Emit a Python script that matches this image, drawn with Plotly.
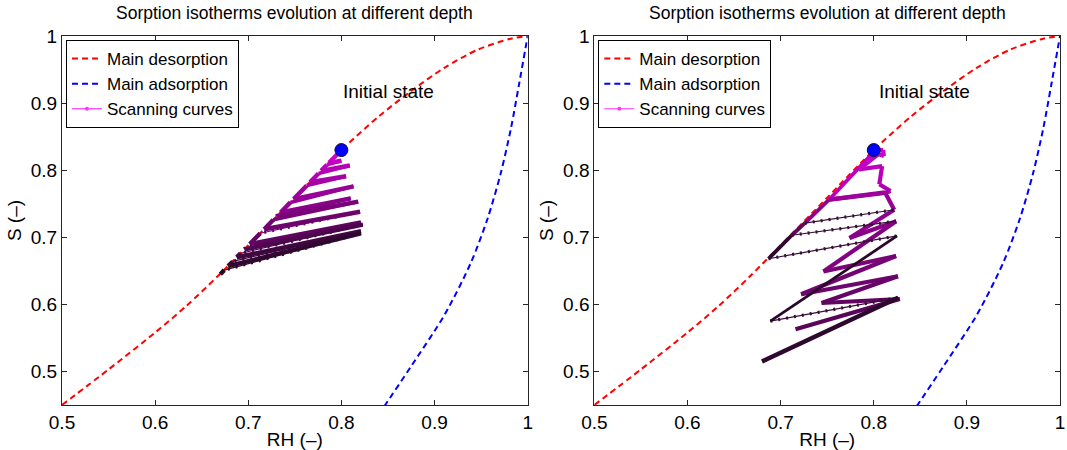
import plotly.graph_objects as go

# ---------------- data ----------------
des_rh = [0.50, 0.55, 0.60, 0.633, 0.668, 0.70, 0.75, 0.80, 0.84, 0.875, 0.911, 0.947, 0.982, 1.00]
des_s = [0.45, 0.503, 0.558, 0.597, 0.643, 0.688, 0.759, 0.830, 0.880, 0.918, 0.953, 0.980, 0.996, 1.00]

ads_rh = [0.840, 0.847, 0.875, 0.911, 0.939, 0.957, 0.971, 0.982, 0.991, 1.00]
ads_s = [0.436, 0.45, 0.508, 0.585, 0.662, 0.728, 0.795, 0.862, 0.930, 1.00]

init_rh = [0.80]
init_s = [0.83]

# left panel: scanning branches (start on drying edge, tip, return point)
L_start_rh = [0.7867, 0.7782, 0.7663, 0.7487, 0.7347, 0.7304, 0.7171, 0.7016, 0.6960, 0.6876, 0.6784]
L_start_s = [0.811, 0.799, 0.782, 0.757, 0.737, 0.731, 0.712, 0.690, 0.682, 0.670, 0.657]
L_tip_rh = [0.800, 0.809, 0.805, 0.813, 0.810, 0.818, 0.820, 0.821, 0.823, 0.821, 0.821]
L_tip_s = [0.814, 0.807, 0.791, 0.776, 0.758, 0.753, 0.738, 0.722, 0.719, 0.709, 0.706]
L_ret_rh = [0.7845, 0.7754, 0.7628, 0.7452, 0.7318, 0.7269, 0.7129, 0.6974, 0.6918, 0.6834, 0.6742]
L_ret_s = [0.808, 0.795, 0.777, 0.752, 0.733, 0.726, 0.706, 0.684, 0.676, 0.664, 0.651]
L_end_rh = [0.670]
L_end_s = [0.645]

# right panel
R_zig_rh = [0.802, 0.810, 0.811, 0.805, 0.784, 0.809, 0.806, 0.818, 0.812, 0.752, 0.812,
            0.822, 0.774, 0.824, 0.746, 0.824, 0.722, 0.826, 0.744, 0.828, 0.716]
R_zig_s = [0.830, 0.830, 0.821, 0.824, 0.801, 0.806, 0.779, 0.769, 0.766, 0.756, 0.767,
           0.741, 0.699, 0.724, 0.649, 0.672, 0.615, 0.642, 0.602, 0.608, 0.563]
R_env_rh = [0.802, 0.752, 0.726, 0.712, 0.687]
R_env_s = [0.830, 0.756, 0.721, 0.703, 0.668]
R_dot_from_rh = [0.726, 0.712, 0.687, 0.689]
R_dot_from_s = [0.721, 0.703, 0.668, 0.575]
R_dot_to_rh = [0.822, 0.824, 0.825, 0.826]
R_dot_to_s = [0.741, 0.724, 0.702, 0.610]
R_diag_rh = [0.689, 0.825]
R_diag_s = [0.575, 0.702]
R_bottom_rh = [0.680, 0.826]
R_bottom_s = [0.515, 0.610]

x_ticks = [0.5, 0.6, 0.7, 0.8, 0.9, 1.0]
x_ticktext = ["0.5", "0.6", "0.7", "0.8", "0.9", "1"]
y_ticks = [0.5, 0.6, 0.7, 0.8, 0.9, 1.0]
y_ticktext = ["0.5", "0.6", "0.7", "0.8", "0.9", "1"]

title_text = "Sorption isotherms evolution at different depth"
names = ["Main desorption", "Main adsorption", "Scanning curves"]

# ---------------- styling helpers ----------------
FONT = "Liberation Sans, Arial, Helvetica, sans-serif"
FS = 19


def shade(t, c0, c1):
    c = [round(a + (b - a) * t) for a, b in zip(c0, c1)]
    return "rgb(%d,%d,%d)" % tuple(c)


fig = go.Figure()


def seg(x, y, color, width, xa, ya, dotted=False):
    fig.add_trace(go.Scatter(x=x, y=y, mode="lines", xaxis=xa, yaxis=ya,
                             line=dict(color=color, width=width),
                             showlegend=False, hoverinfo="skip"))
    if dotted:
        fig.add_trace(go.Scatter(x=x, y=y, mode="lines", xaxis=xa, yaxis=ya,
                                 line=dict(color=color, width=3.2, dash="2px,6px"),
                                 showlegend=False, hoverinfo="skip"))


panels = [("x", "y", "legend"), ("x2", "y2", "legend2")]

# main curves + legend entries
for xa, ya, lg in panels:
    fig.add_trace(go.Scatter(x=des_rh, y=des_s, mode="lines", name=names[0], xaxis=xa, yaxis=ya,
                             legend=lg, line=dict(color="#ff0000", width=2, dash="6px,4px",
                                                  shape="spline", smoothing=0.8)))
    fig.add_trace(go.Scatter(x=ads_rh, y=ads_s, mode="lines", name=names[1], xaxis=xa, yaxis=ya,
                             legend=lg, line=dict(color="#0000ff", width=2, dash="6px,4px",
                                                  shape="spline", smoothing=0.8)))
    fig.add_trace(go.Scatter(x=[None], y=[None], mode="lines+markers", name=names[2], xaxis=xa,
                             yaxis=ya, legend=lg, line=dict(color="#ff33ff", width=1.2),
                             marker=dict(color="#ff33ff", size=4)))

# ---- left panel scanning curves ----
C0, C1 = (205, 0, 205), (40, 8, 40)
pts = [(init_rh[0], init_s[0], None)]
for i in range(len(L_start_rh)):
    pts.append((L_start_rh[i], L_start_s[i], "env"))
    pts.append((L_tip_rh[i], L_tip_s[i], "fwd"))
    pts.append((L_ret_rh[i], L_ret_s[i], "back%d" % i))
pts.append((L_end_rh[0], L_end_s[0], "env"))
n = len(pts) - 1
for k in range(n):
    x0, y0, _ = pts[k]
    x1, y1, kind = pts[k + 1]
    col = shade(k / (n - 1), C0, C1)
    if kind.startswith("back"):
        idx = int(kind[4:])
        if idx >= 6:
            seg([x0, x1], [y0, y1], col, 1.2, "x", "y", dotted=True)
        else:
            seg([x0, x1], [y0, y1], col, 3.6, "x", "y")
    else:
        seg([x0, x1], [y0, y1], col, 4.4, "x", "y")

# ---- right panel scanning curves ----
ne = len(R_env_rh) - 1
for k in range(ne):
    seg(R_env_rh[k:k + 2], R_env_s[k:k + 2], shade(k / (ne - 1), (190, 0, 190), (45, 10, 45)),
        3.8, "x2", "y2")
nz = len(R_zig_rh) - 1
for k in range(nz):
    seg(R_zig_rh[k:k + 2], R_zig_s[k:k + 2], shade(k / (nz - 1), (215, 0, 215), (90, 5, 90)),
        4.2, "x2", "y2")
for k in range(len(R_dot_from_rh)):
    seg([R_dot_from_rh[k], R_dot_to_rh[k]], [R_dot_from_s[k], R_dot_to_s[k]],
        "rgb(55,15,55)", 1.2, "x2", "y2", dotted=True)
seg(R_diag_rh, R_diag_s, "rgb(40,10,40)", 2.8, "x2", "y2")
seg(R_bottom_rh, R_bottom_s, "rgb(45,10,45)", 4.4, "x2", "y2")

# initial state markers
for xa, ya, lg in panels:
    fig.add_trace(go.Scatter(x=init_rh, y=init_s, mode="markers", xaxis=xa, yaxis=ya,
                             marker=dict(color="#0000ff", size=13,
                                         line=dict(color="#10103a", width=1)),
                             showlegend=False, hoverinfo="skip"))

# ---------------- layout ----------------
W, H = 1067, 450
ML, MR, MT, MB = 62, 2, 36, 45
pw = W - ML - MR
ph = H - MT - MB
dom1 = [0, 468 / pw]
dom2 = [(597 - ML) / pw, 1]

axis_common = dict(range=[0.5, 1], showline=True, linecolor="#262626", linewidth=1,
                   mirror="ticks", ticks="inside", ticklen=5, tickcolor="#262626",
                   showgrid=False, zeroline=False, tickfont=dict(size=FS, color="black"),
                   fixedrange=True)
yaxis_common = dict(axis_common, range=[0.45, 1])

leg_common = dict(y=1 - 4 / ph, xanchor="left", yanchor="top", bgcolor="white",
                  bordercolor="black", borderwidth=1, font=dict(size=17), itemwidth=30,
                  tracegroupgap=0)

fig.update_layout(
    width=W, height=H, margin=dict(l=ML, r=MR, t=MT, b=MB),
    paper_bgcolor="white", plot_bgcolor="white",
    font=dict(family=FONT, size=FS, color="black"),
    xaxis=dict(axis_common, domain=dom1, anchor="y", tickvals=x_ticks, ticktext=x_ticktext,
               title=dict(text="RH (–)", standoff=0, font=dict(size=FS))),
    yaxis=dict(yaxis_common, domain=[0, 1], anchor="x", tickvals=y_ticks, ticktext=y_ticktext,
               title=dict(text="S (–)", standoff=4, font=dict(size=FS))),
    xaxis2=dict(axis_common, domain=dom2, anchor="y2", tickvals=x_ticks, ticktext=x_ticktext,
                title=dict(text="RH (–)", standoff=0, font=dict(size=FS))),
    yaxis2=dict(yaxis_common, domain=[0, 1], anchor="x2", tickvals=y_ticks, ticktext=y_ticktext,
                title=dict(text="S (–)", standoff=4, font=dict(size=FS))),
    legend=dict(leg_common, x=(66 - ML) / pw),
    legend2=dict(leg_common, x=(601 - ML) / pw),
    showlegend=True,
)

for dom in (dom1, dom2):
    fig.add_annotation(text=title_text, xref="paper", yref="paper",
                       x=(dom[0] + dom[1]) / 2, y=1 + 23 / ph, xanchor="center",
                       yanchor="middle", showarrow=False, font=dict(size=17.5))

fig.add_annotation(text="Initial state", xref="x", yref="y", x=0.851, y=0.918,
                   showarrow=False, font=dict(size=FS))
fig.add_annotation(text="Initial state", xref="x2", yref="y2", x=0.855, y=0.918,
                   showarrow=False, font=dict(size=FS))

# remove the default 8px page margin so the figure sits at the window's top-left corner
fig.write_html("out.html", config={"displayModeBar": False},
               post_script="document.body.style.margin='0px';document.body.style.overflow='hidden';")
